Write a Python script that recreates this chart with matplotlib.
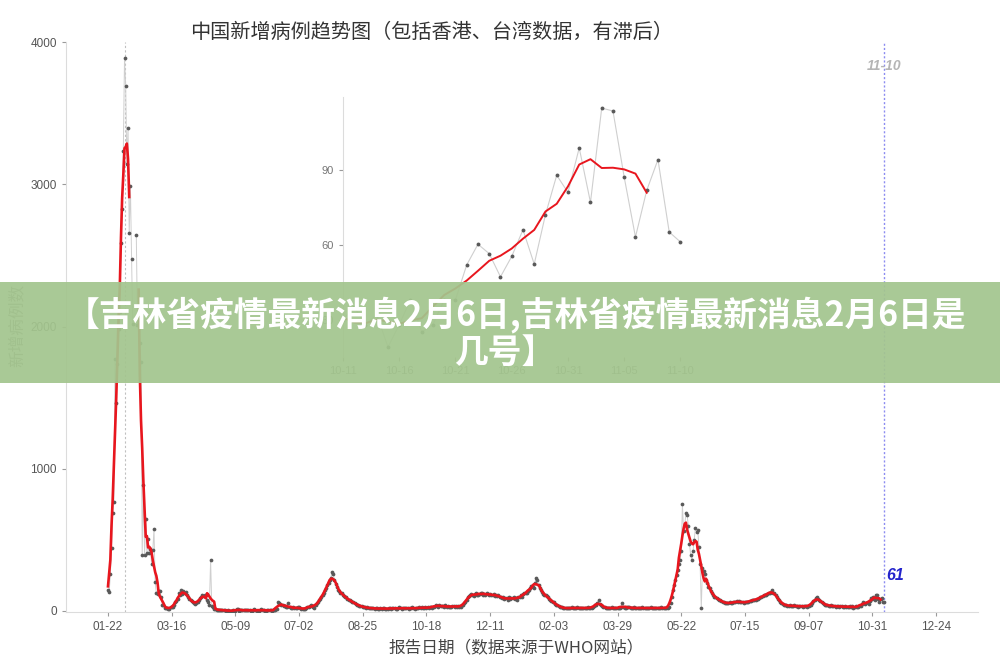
import matplotlib
matplotlib.use("Agg")
import matplotlib.pyplot as plt
import matplotlib.dates as mdates
from matplotlib.patches import Rectangle
import numpy as np
import pandas as pd

plt.rcParams['font.family'] = ['Liberation Sans', 'DejaVu Sans']
CJK = ['Noto Sans CJK SC', 'DejaVu Sans']

# daily new cases (WHO, incl. HK and TW), one list per month
pre20 = [17, 136, 77]          # 01-19 .. 01-21, only feed the 7-day mean
jan20 = [149, 131, 259, 444, 688, 769, 1771, 1459, 1737, 1981]
feb20 = [2102, 2590, 2829, 3235, 3887, 3694, 3143, 3399, 2656, 2990,
         2478, 2015, 15152, 5090, 2641, 2009, 2048, 1886, 1749, 394,
         889, 397, 648, 409, 508, 406, 433, 327, 427]
mar20 = [573, 202, 125, 119, 139, 143, 99, 44, 40, 19,
         24, 20, 15, 15, 25, 30, 25, 40, 60, 70,
         85, 124, 110, 148, 120, 140, 130, 136, 110, 95, 85]
apr20 = [75, 70, 60, 55, 50, 54, 60, 75, 90, 95,
         110, 105, 115, 112, 80, 60, 45, 358, 35, 25,
         15, 12, 10, 8, 10, 8, 5, 6, 4, 5]
may20 = [3, 2, 4, 2, 1, 2, 4, 2, 1, 14,
         17, 2, 5, 7, 5, 4, 7, 5, 6, 6,
         4, 3, 3, 4, 11, 7, 3, 2, 2, 4, 16]
jun20 = [6, 4, 3, 2, 5, 4, 6, 5, 3, 4,
         6, 8, 12, 61, 55, 50, 45, 40, 38, 32,
         30, 28, 54, 25, 22, 20, 25, 22, 20, 18]
jul20 = [30, 25, 20, 15, 15, 12, 15, 20, 25, 30,
         35, 40, 38, 25, 20, 40, 55, 65, 75, 85,
         95, 110, 130, 145, 160, 180, 200, 215, 235, 276, 262]
aug20 = [215, 190, 170, 150, 140, 130, 125, 115, 105, 100,
         95, 85, 80, 75, 70, 65, 60, 55, 50, 45,
         40, 38, 35, 32, 30, 28, 25, 22, 25, 20, 22]
sep20 = [20, 18, 22, 15, 20, 18, 14, 16, 20, 15,
         18, 22, 15, 12, 16, 20, 18, 15, 22, 20,
         18, 16, 14, 20, 25, 18, 15, 20, 22, 18]
oct20 = [20, 18, 15, 22, 20, 25, 18, 16, 20, 22,
         18, 25, 20, 30, 22, 18, 25, 20, 28, 22,
         25, 30, 24, 28, 35, 45, 38, 30, 40, 35, 32]
nov20 = [35, 30, 40, 28, 35, 30, 25, 30, 35, 38,
         30, 32, 28, 35, 30, 28, 40, 45, 55, 60,
         80, 100, 105, 110, 120, 115, 105, 120, 125, 110]
dec20 = [115, 120, 125, 130, 115, 120, 110, 125, 118, 112,
         120, 115, 110, 118, 105, 112, 108, 115, 100, 95,
         90, 95, 85, 92, 88, 80, 95, 85, 90, 88, 95]
jan21 = [85, 90, 80, 95, 100, 110, 95, 120, 125, 125,
         130, 140, 150, 165, 175, 170, 160, 195, 234, 215,
         180, 160, 150, 135, 120, 115, 110, 105, 95, 85, 80]
feb21 = [70, 65, 60, 50, 45, 40, 35, 30, 28, 25,
         22, 20, 18, 20, 22, 18, 20, 25, 22, 20,
         18, 22, 25, 20, 18, 22, 24, 20]
mar21 = [22, 20, 18, 25, 22, 20, 24, 28, 35, 40,
         45, 55, 77, 50, 45, 35, 30, 25, 22, 20,
         18, 22, 20, 25, 22, 20, 18, 22, 20, 24, 22]
apr21 = [25, 54, 30, 22, 20, 25, 30, 28, 22, 20,
         18, 25, 22, 20, 24, 18, 20, 22, 25, 20,
         18, 22, 20, 18, 22, 25, 20, 18, 22, 20]
may21 = [20, 18, 22, 20, 25, 22, 18, 20, 22, 25,
         22, 30, 55, 100, 147, 180, 218, 250, 290, 330,
         358, 420, 750, 560, 605, 687, 675, 600, 470, 394, 358]
jun21 = [420, 500, 582, 558, 570, 450, 330, 23, 300, 280,
         260, 220, 200, 171, 160, 140, 124, 115, 100, 95,
         89, 85, 80, 77, 70, 65, 60, 58, 55, 54]
jul21 = [55, 60, 58, 54, 62, 65, 60, 70, 65, 68,
         62, 65, 60, 58, 62, 64, 60, 65, 70, 72,
         75, 78, 80, 76, 82, 85, 90, 95, 100, 105, 110]
aug21 = [112, 115, 120, 125, 130, 135, 147, 130, 125, 110,
         100, 85, 75, 65, 55, 50, 45, 42, 40, 38,
         35, 40, 38, 35, 32, 40, 38, 35, 30, 35, 32]
sep21 = [35, 30, 32, 38, 35, 30, 33, 40, 45, 55,
         70, 80, 90, 96, 85, 80, 70, 60, 55, 50,
         45, 42, 40, 38, 35, 40, 38, 35, 32, 30]
oct21 = [35, 32, 30, 35, 32, 28, 30, 33, 30, 28,
         30, 35, 28, 32, 19, 28, 38, 25, 28, 38,
         38, 52, 60.3, 56.5, 47.2, 55.4, 66.1, 52.3, 72.2, 88.0, 81.1]
nov21 = [99.0, 77.1, 115.0, 113.8, 87.2, 63.2, 81.9, 94.3, 65.2, 61.2]

months = [("2020-01-19", pre20), ("2020-01-22", jan20), ("2020-02-01", feb20),
          ("2020-03-01", mar20), ("2020-04-01", apr20), ("2020-05-01", may20),
          ("2020-06-01", jun20), ("2020-07-01", jul20), ("2020-08-01", aug20),
          ("2020-09-01", sep20), ("2020-10-01", oct20), ("2020-11-01", nov20),
          ("2020-12-01", dec20), ("2021-01-01", jan21), ("2021-02-01", feb21),
          ("2021-03-01", mar21), ("2021-04-01", apr21), ("2021-05-01", may21),
          ("2021-06-01", jun21), ("2021-07-01", jul21), ("2021-08-01", aug21),
          ("2021-09-01", sep21), ("2021-10-01", oct21), ("2021-11-01", nov21)]

allcases = pd.concat([pd.Series(v, index=pd.date_range(s, periods=len(v), freq="D"), dtype=float)
                      for s, v in months])
smooth = allcases.rolling(7, center=True, min_periods=7).mean()

first_day = "2020-01-22"
YMAX = 4000
# values above the axis limit are dropped (gaps), as in the original
cases = allcases[first_day:]
shown = cases.where(cases <= YMAX)
smooth = smooth[first_day:]
smooth_shown = smooth.where(smooth <= YMAX)

main_ticks = pd.date_range(first_day, periods=14, freq="54D")
zoom_start, zoom_end = "2021-10-11", "2021-11-10"
zoom_ticks = pd.date_range(zoom_start, zoom_end, freq="5D")
mark_day = pd.Timestamp("2020-02-05")
last_day = cases.index[-1]

title = "中国新增病例趋势图（包括香港、台湾数据，有滞后）"
xlab = "报告日期（数据来源于WHO网站）"
ylab = "新增病例数"
banner1 = "【吉林省疫情最新消息2月6日,吉林省疫情最新消息2月6日是"
banner2 = "几号】"

GREY_LINE = "#cfcfcf"
DOT = "#595959"
RED = "#e8161e"

fig = plt.figure(figsize=(10, 6.67), dpi=100)

# main panel
ax = fig.add_axes([0.066, 0.0829, 0.912, 0.854])
ax.plot(shown.index, shown.values, color=GREY_LINE, lw=0.7, zorder=2)
ax.plot(shown.index, shown.values, 'o', color=DOT, ms=2.7, mew=0, zorder=3)
ax.plot(smooth_shown.index, smooth_shown.values, color=RED, lw=1.9, zorder=4)
ax.axvline(mark_day, color="#c0c0c0", lw=0.8, ls=(0, (2, 2)), zorder=1)
ax.axvline(last_day, color="#8c8cf0", lw=1.0, ls=(0, (1.5, 1.5)), zorder=1)
ax.text(last_day, 3830, "11-10", color="#b5b5b5", fontsize=10, fontstyle="italic",
        fontweight="bold", ha="center", va="center")
ax.text(last_day + pd.Timedelta(days=2), 250, f"{cases.iloc[-1]:.0f}", color="#2323cc",
        fontsize=11.5, fontstyle="italic", fontweight="bold", ha="left", va="center")

d0 = mdates.date2num(pd.Timestamp(first_day))
ax.set_xlim(d0 - 35.6, d0 + 737.6)
ax.set_ylim(-5, YMAX)
ax.set_xticks(main_ticks)
ax.set_xticklabels(main_ticks.strftime("%m-%d"))
ax.set_yticks([0, 1000, 2000, 3000, 4000])
for s in ["top", "right"]:
    ax.spines[s].set_visible(False)
for s in ["left", "bottom"]:
    ax.spines[s].set_color("#dcdcdc")
ax.tick_params(colors="#9a9a9a", labelcolor="#555555", length=3, labelsize=8.5)
ax.set_facecolor("white")

# inset panel
ax2 = fig.add_axes([0.343, 0.4648, 0.345, 0.39])
ax2.set_facecolor("none")
zc = cases[zoom_start:zoom_end]
zs = smooth[zoom_start:zoom_end]
ax2.plot(zc.index, zc.values, color=GREY_LINE, lw=0.8, zorder=2)
ax2.plot(zc.index, zc.values, 'o', color=DOT, ms=2.8, mew=0, zorder=3)
ax2.plot(zs.index, zs.values, color=RED, lw=1.4, zorder=4)
z0 = mdates.date2num(pd.Timestamp(zoom_start))
ax2.set_xlim(z0, z0 + 30.67)
ax2.set_ylim(15, 119.5)
ax2.set_xticks(zoom_ticks)
ax2.set_xticklabels(zoom_ticks.strftime("%m-%d"))
ax2.set_yticks([30, 60, 90])
for s in ["top", "right", "bottom"]:
    ax2.spines[s].set_visible(False)
ax2.spines["left"].set_color("#dcdcdc")
ax2.tick_params(colors="#9a9a9a", labelcolor="#777777", length=3, labelsize=8)

# texts
fig.text(0.432, 1 - 32 / 667, title, family=CJK, fontsize=14.5, color="#333333",
         ha="center", va="center")
fig.text(0.516, 1 - 648 / 667, xlab, family=CJK, fontsize=12, color="#444444",
         ha="center", va="center")
fig.text(0.017, 1 - 325 / 667, ylab, family=CJK, fontsize=12, color="#8a8a8a",
         rotation=90, ha="center", va="center")

# banner overlay
fig.patches.append(Rectangle((0, 1 - 383 / 667), 1, 101 / 667, transform=fig.transFigure,
                             facecolor="#a3c58e", edgecolor="none", alpha=0.93, zorder=10))
fig.text(0.516, 1 - 315 / 667, banner1, family=CJK, fontsize=24.3, fontweight="bold",
         color="white", ha="center", va="center", zorder=11)
fig.text(0.505, 1 - 352 / 667, banner2, family=CJK, fontsize=24.3, fontweight="bold",
         color="white", ha="center", va="center", zorder=11)

fig.savefig("out.png", dpi=100, facecolor="white")
